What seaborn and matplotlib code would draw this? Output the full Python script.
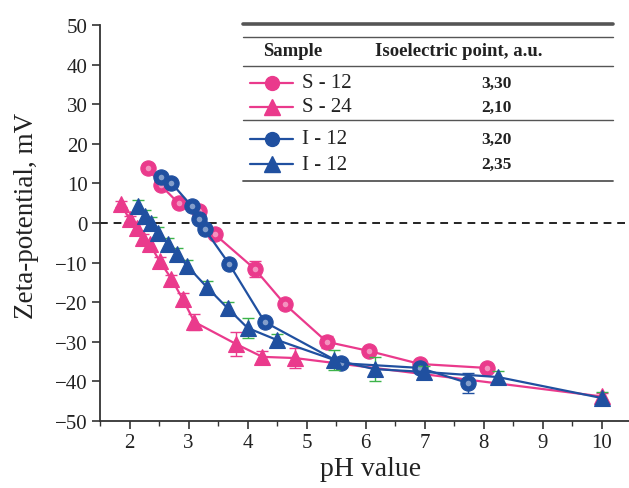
import matplotlib
matplotlib.use("Agg")
import matplotlib.pyplot as plt
import seaborn as sns
import numpy as np
import pandas as pd
from matplotlib.lines import Line2D
from matplotlib.ticker import MultipleLocator

# ---------------- data ----------------
s12_ph = [2.31, 2.53, 2.83, 3.17, 3.44, 4.12, 4.63, 5.34, 6.05, 6.92, 8.05]
s12_z = [14.0, 9.5, 5.0, 3.0, -2.8, -11.6, -20.5, -30.0, -32.3, -35.6, -36.6]
s12_err = [0.8, 0.8, 0.8, 0.8, 0.8, 2.0, 0.8, 1.5, 0.8, 0.8, 0.8]

s24_ph = [1.85, 2.00, 2.12, 2.22, 2.34, 2.51, 2.71, 2.90, 3.10, 3.81, 4.25, 4.80, 10.0]
s24_z = [4.8, 1.0, -1.3, -3.8, -5.3, -9.6, -14.1, -19.2, -25.0, -30.6, -33.8, -34.1, -43.8]
s24_err = [0.8, 0.8, 1.0, 1.0, 1.0, 1.0, 1.0, 1.5, 2.0, 3.0, 1.5, 2.5, 0.8]

i12c_ph = [2.53, 2.71, 3.05, 3.17, 3.27, 3.69, 4.29, 5.58, 6.92, 7.73]
i12c_z = [11.6, 10.1, 4.3, 1.0, -1.5, -10.4, -25.0, -35.4, -36.6, -40.4]
i12c_err = [0.8, 0.8, 0.8, 0.8, 0.8, 0.8, 0.8, 1.0, 0.8, 2.5]

i12t_ph = [2.15, 2.27, 2.37, 2.49, 2.66, 2.81, 2.98, 3.31, 3.66, 4.00, 4.49, 5.47, 6.15, 6.98, 8.24, 10.0]
i12t_z = [4.3, 1.8, 0.0, -2.5, -5.3, -7.8, -10.9, -16.2, -21.5, -26.5, -29.5, -34.6, -36.9, -37.6, -38.9, -44.2]
i12t_err = [1.5, 1.5, 1.5, 1.5, 1.5, 1.5, 1.5, 1.5, 1.5, 2.5, 1.5, 2.5, 3.0, 1.5, 1.5, 1.5]

table_labels = ["S - 12", "S - 24", "I - 12", "I - 12"]
table_values = ["3,30", "2,10", "3,20", "2,35"]

# ---------------- style ----------------
sns.set_style("ticks")
plt.rcParams["font.family"] = ["Liberation Serif", "DejaVu Serif"]

PINK = "#EA3A8C"
BLUE = "#2050A0"
GREEN = "#3DB34A"

W, H = 629, 489
fig = plt.figure(figsize=(W / 100, H / 100), dpi=100)
ax = fig.add_axes([100 / W, 1 - 422 / H, (W - 100) / W, (422 - 26) / H])

def fx(x):
    return x / W

def fy(y):
    return 1 - y / H

series = [
    (s12_ph, s12_z, s12_err, PINK, PINK, "o"),
    (s24_ph, s24_z, s24_err, PINK, PINK, "^"),
    (i12c_ph, i12c_z, i12c_err, BLUE, BLUE, "o"),
    (i12t_ph, i12t_z, i12t_err, BLUE, GREEN, "^"),
]

for k, (xs, ys, es, col, ecol, mk) in enumerate(series):
    ax.errorbar(xs, ys, yerr=es, fmt="none", ecolor=ecol, elinewidth=1.0,
                capsize=4, capthick=1.0, zorder=2 + k)
    df = pd.DataFrame({"x": xs, "y": ys})
    sns.lineplot(data=df, x="x", y="y", ax=ax, color=col, lw=1.6,
                 marker=mk, markersize=11 if mk == "o" else 12,
                 markeredgecolor=col, markeredgewidth=0.8,
                 sort=False, estimator=None, zorder=3 + k)
    if mk == "o":
        ax.plot(xs, ys, ls="none", marker="o", markersize=4,
                color="white", alpha=0.45, markeredgewidth=0, zorder=3 + k)

ax.axhline(0, color="#222222", lw=1.4, ls=(0, (4, 3)), zorder=1)

ax.set_xlim(1.5, 10.46)
ax.set_ylim(-50, 50)
ax.set_xticks(range(2, 11))
ax.xaxis.set_minor_locator(MultipleLocator(0.5))
ax.set_yticks(range(-50, 51, 10))
ax.set_yticklabels([("\u2212" + str(-v)) if v < 0 else str(v) for v in range(-50, 51, 10)])

for side in ["top", "right"]:
    ax.spines[side].set_visible(False)
for side in ["left", "bottom"]:
    ax.spines[side].set_color("#333333")
    ax.spines[side].set_linewidth(1.3)

ax.tick_params(axis="both", which="major", direction="out", length=6, width=1.2,
               colors="#333333", labelsize=15, labelcolor="#222222", pad=3)
ax.tick_params(axis="x", which="minor", direction="out", length=3.5, width=1.0,
               colors="#333333")
ax.set_xlabel("pH value", fontsize=20, color="#222222")
ax.set_ylabel("Zeta-potential, mV", fontsize=19.5, color="#222222")
ax.xaxis.set_label_coords((371 - 100) / (W - 100), -(470 - 422) / (422 - 26))
ax.yaxis.set_label_coords(-(100 - 27) / (W - 100), (422 - 216) / (422 - 26))
ax.xaxis.label.set_va("center")
ax.yaxis.label.set_va("center")

# ---------------- table legend ----------------
tx0, tx1 = fx(243), fx(613)
line_specs = [(25, 2.6), (38, 1.0), (67, 1.0), (121, 1.0), (182, 1.3)]
for yy, lw in line_specs:
    fig.add_artist(Line2D([tx0, tx1], [fy(yy), fy(yy)], color="#555555", lw=lw,
                          transform=fig.transFigure))

fig.text(fx(263), fy(52), "Sample", fontsize=13.5, fontweight="bold",
         ha="left", va="center", color="#222222")
fig.text(fx(375), fy(52), "Isoelectric point, a.u.", fontsize=13.5, fontweight="bold",
         ha="left", va="center", color="#222222")

row_y = [84, 108, 140, 165]
row_col = [PINK, PINK, BLUE, BLUE]
row_mk = ["o", "^", "o", "^"]
for yy, lab, val, col, mk in zip(row_y, table_labels, table_values, row_col, row_mk):
    fig.add_artist(Line2D([fx(250), fx(293)], [fy(yy), fy(yy)], color=col, lw=1.6,
                          transform=fig.transFigure))
    fig.add_artist(Line2D([fx(272)], [fy(yy)], color=col, marker=mk,
                          markersize=10 if mk == "o" else 11, ls="none",
                          transform=fig.transFigure))
    fig.text(fx(302), fy(yy), lab, fontsize=15, ha="left", va="center", color="#222222")
    fig.text(fx(496), fy(yy), val, fontsize=12.5, fontweight="bold",
             ha="center", va="center", color="#222222")

fig.savefig("out.png", dpi=100)
